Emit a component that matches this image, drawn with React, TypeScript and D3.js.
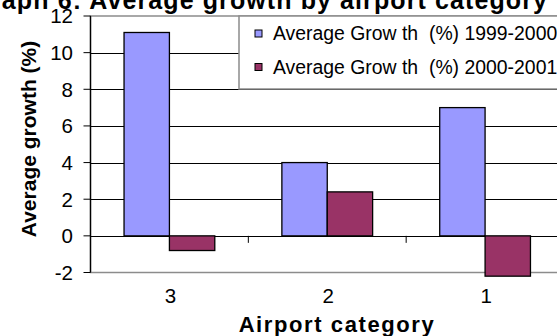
import React from "react";
import * as d3 from "d3";

const width = 557;
const height = 336;

const categories = ["3", "2", "1"];
const seriesNames = ["Average Grow th  (%) 1999-2000", "Average Grow th  (%) 2000-2001"];
const growth9900 = [11.1, 4.0, 7.0];
const growth0001 = [-0.8, 2.4, -2.2];
const yTicks = [-2, 0, 2, 4, 6, 8, 10, 12];
const colors = ["#9999FF", "#993366"];

const font = "'Liberation Sans', Arial, sans-serif";

const plotLeft = 90.5;
const plotRight = 564;
const plotTop = 16;
const plotBottom = 272.5;

const x = d3.scaleBand<string>().domain(categories).range([plotLeft, plotRight]).paddingInner(0.425).paddingOuter(0.2125);
const xStep = d3.scaleBand<string>().domain(categories).range([plotLeft, plotRight]);
const y = d3.scaleLinear().domain([-2, 12]).range([plotBottom, plotTop]);
const sub = d3.scaleBand<number>().domain([0, 1]).range([0, x.bandwidth()]);

const series = [growth9900, growth0001];

const App = () => {
  const zero = y(0);
  return (
    <svg width={width} height={height} style={{ position: "absolute", left: 0, top: 0, background: "#fff" }}>
      {/* plot frame */}
      <rect x={plotLeft} y={plotTop} width={plotRight - plotLeft} height={plotBottom - plotTop} fill="#fff" stroke="#8c8c8c" strokeWidth={1.5} />
      {/* gridlines */}
      {yTicks.filter(t => t > -2 && t < 12).map(t => (
        <line key={t} x1={plotLeft} x2={plotRight} y1={Math.round(y(t)) + 0.5} y2={Math.round(y(t)) + 0.5} stroke="#000" strokeWidth={1} />
      ))}
      {/* bars */}
      {series.map((vals, si) =>
        vals.map((v, i) => {
          const bx = x(categories[i])! + sub(si)!;
          const top = Math.min(y(v), zero);
          return (
            <rect key={`${si}-${i}`} x={bx} y={top} width={sub.bandwidth()} height={Math.abs(y(v) - zero)}
              fill={colors[si]} stroke="#000" strokeWidth={1.3} />
          );
        })
      )}
      {/* y axis */}
      <line x1={plotLeft} x2={plotLeft} y1={plotTop} y2={plotBottom} stroke="#000" strokeWidth={1.3} />
      {yTicks.map(t => (
        <g key={t}>
          <line x1={plotLeft - 7} x2={plotLeft} y1={y(t)} y2={y(t)} stroke="#000" strokeWidth={1} />
          <text x={73} y={y(t)} dy="0.36em" textAnchor="end" fontFamily={font} fontSize={20.5}>{t}</text>
        </g>
      ))}
      {/* category axis at zero */}
      {categories.map(c => (
        <line key={c} x1={xStep(c)!} x2={xStep(c)!} y1={zero} y2={zero + 7} stroke="#000" strokeWidth={1} />
      ))}
      {categories.map(c => (
        <text key={c} x={xStep(c)! + xStep.bandwidth() / 2 + 1} y={303} textAnchor="middle" fontFamily={font} fontSize={20.5}>{c}</text>
      ))}
      {/* legend */}
      <rect x={239} y={plotTop} width={330} height={73} fill="#fff" stroke="#8c8c8c" strokeWidth={1.5} />
      {seriesNames.map((n, i) => (
        <g key={n} transform={`translate(255,${33.5 + i * 33.5})`}>
          <rect x={0} y={-3.5} width={7} height={7} fill={colors[i]} stroke="#000" strokeWidth={1} />
          <text x={18} y={0} dy="0.36em" fontFamily={font} fontSize={19.4} style={{ whiteSpace: "pre" }}>{n}</text>
        </g>
      ))}
      {/* titles */}
      <text x={548} y={9} textAnchor="end" fontFamily={font} fontSize={25} fontWeight="bold" letterSpacing={1.1}>Graph 6: Average growth by airport category</text>
      <text transform="translate(36,139) rotate(-90)" textAnchor="middle" fontFamily={font} fontSize={21} fontWeight="bold">Average growth (%)</text>
      <text x={337} y={332} textAnchor="middle" fontFamily={font} fontSize={22} fontWeight="bold" letterSpacing={1.6}>Airport category</text>
    </svg>
  );
};

export default App;
